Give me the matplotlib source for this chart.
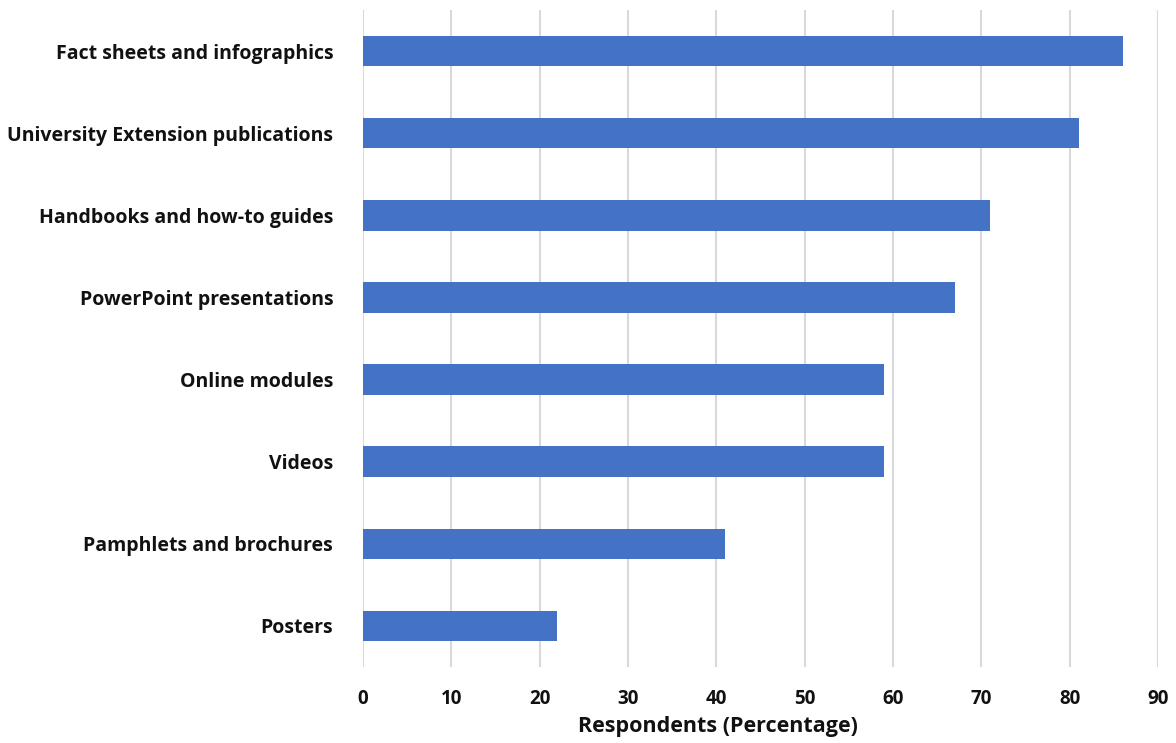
import matplotlib
matplotlib.use('Agg')
import matplotlib.pyplot as plt

CATEGORIES = [
    'Fact sheets and infographics',
    'University Extension publications',
    'Handbooks and how-to guides',
    'PowerPoint presentations',
    'Online modules',
    'Videos',
    'Pamphlets and brochures',
    'Posters',
]
VALUES = [86, 81, 71, 67, 59, 59, 41, 22]
X_TICKS = [0, 10, 20, 30, 40, 50, 60, 70, 80, 90]

BAR_COLOR = '#4472C4'
GRID_COLOR = '#d9d9d9'
TEXT_COLOR = '#111111'

plt.rcParams['font.family'] = ['Open Sans', 'DejaVu Sans']

fig = plt.figure(figsize=(11.76, 7.43), dpi=100)
ax = fig.add_axes([363 / 1176, 76 / 743, 795 / 1176, 657 / 743])

ypos = list(range(len(CATEGORIES)))[::-1]
ax.barh(ypos, VALUES, height=0.37, color=BAR_COLOR, zorder=3)

ax.set_xlim(0, 90)
ax.set_ylim(-0.5, 7.5)
ax.set_xticks(X_TICKS)
ax.set_xticklabels([str(t) for t in X_TICKS], fontsize=13.5, fontweight='bold', color=TEXT_COLOR)
ax.set_yticks(ypos)
ax.set_yticklabels(CATEGORIES, fontsize=14, fontweight='bold', color=TEXT_COLOR)
ax.tick_params(axis='x', length=0, pad=16)
ax.tick_params(axis='y', length=0, pad=21.5)

ax.xaxis.grid(True, color=GRID_COLOR, linewidth=1.5, zorder=0)
for side in ('top', 'right', 'bottom', 'left'):
    ax.spines[side].set_visible(False)

ax.set_xlabel('Respondents (Percentage)', fontsize=15.5, fontweight='bold', color=TEXT_COLOR)
ax.xaxis.set_label_coords(0.447, -0.074)

plt.savefig('out.png', dpi=100)
